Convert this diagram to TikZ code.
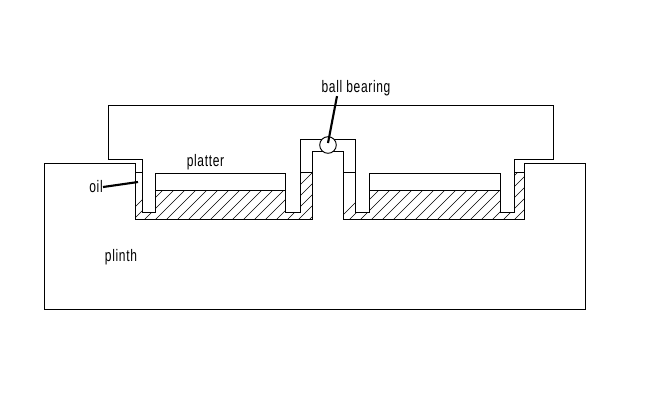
\documentclass[tikz,border=0pt]{standalone}
\usepackage{fontspec}
\setmainfont[FakeStretch=0.72,LetterSpace=4]{Liberation Sans}
\tikzset{
  outline/.style={draw=black, line width=0.55pt},
  hatchline/.style={draw=black, line width=0.35pt},
  cadlabel/.style={inner sep=0pt, font=\fontsize{9.5}{11}\selectfont, text=black},
  leader/.style={draw=black, line width=1.2pt}
}
\begin{document}
\begin{tikzpicture}[x=0.02cm, y=-0.02cm]
    \useasboundingbox[fill=white] (0,0) rectangle (650,400);
    %huile
    \begin{scope}
      \clip (135,172) -- (142,172) -- (142,212) -- (155,212) -- (155,190) -- (285,190) -- (285,212) -- (300,212) -- (300,172) -- (312,172) -- (312,219) -- (135,219) -- cycle;
      \foreach \i in {0,11,...,220}
        \draw[hatchline] (112+\i,230) -- (192+\i,150);
    \end{scope}
    \begin{scope}
      \clip (343,172) -- (355,172) -- (355,212) -- (369,212) -- (369,190) -- (500,190) -- (500,212) -- (514,212) -- (514,172) -- (524,172) -- (524,219) -- (343,219) -- cycle;
      \foreach \i in {0,11,...,231}
        \draw[hatchline] (328+\i,230) -- (408+\i,150);
    \end{scope}
    %socle
    \draw[outline] (135,163) -- (44,163) -- (44,309) -- (585,309) -- (585,163) -- (524,163) -- (524,219) -- (343,219) -- (343,151) -- (312,151) -- (312,219) -- (135,219) -- cycle;
    %plateau
    \draw[outline] (108,105) -- (553,105) -- (553,159) -- (514,159) -- (514,212) -- (500,212) -- (500,173) -- (369,173) -- (369,212) -- (355,212) -- (355,139) -- (300,139) -- (300,212) -- (285,212) -- (285,173) -- (155,173) -- (155,212) -- (142,212) -- (142,159) -- (108,159) -- cycle;
    %niveau
    \draw[outline] (135,172) -- (142,172);
    \draw[outline] (155,190) -- (285,190);
    \draw[outline] (300,172) -- (312,172);
    \draw[outline] (343,172) -- (355,172);
    \draw[outline] (369,190) -- (500,190);
    \draw[outline] (514,172) -- (524,172);
    %bille
    \draw[outline, fill=white] (328,145) circle (8.3);
    %textes
    \node[cadlabel] (ballbearing) at (356,88) {ball bearing};
    \node[cadlabel] (platter) at (205.5,162) {platter};
    \node[cadlabel] (oil) at (96,187) {oil};
    \node[cadlabel] (plinth) at (121,257) {plinth};
    \coordinate (ballcentre) at (328,143);
    \coordinate (oilface) at (138,182);
    %traits
    \draw[leader] (ballbearing.south) ++(-19,0) -- (ballcentre);
    \draw[leader] (oil.east) -- (oilface);
  \end{tikzpicture}
\end{document}
